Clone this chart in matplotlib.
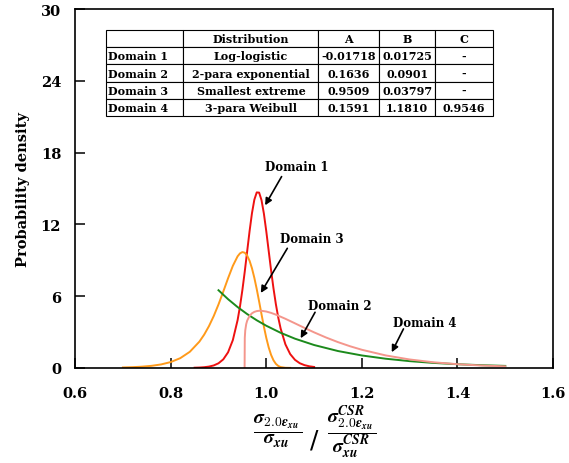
import matplotlib
matplotlib.use('Agg')
import matplotlib.pyplot as plt

plt.rcParams['font.family'] = ['DejaVu Serif']
plt.rcParams['font.weight'] = 'bold'
plt.rcParams['axes.labelweight'] = 'bold'
plt.rcParams['mathtext.fontset'] = 'cm'
plt.rcParams['axes.unicode_minus'] = False

# Domain 1 - log-logistic
x1 = [0.85, 0.86, 0.87, 0.88, 0.89, 0.90, 0.91, 0.92, 0.93, 0.94, 0.945, 0.95, 0.955,
      0.96, 0.965, 0.97, 0.975, 0.98, 0.985, 0.99, 0.995, 1.00, 1.005, 1.01, 1.015,
      1.02, 1.025, 1.03, 1.04, 1.05, 1.06, 1.07, 1.08, 1.09, 1.10]
y1 = [0.015, 0.029, 0.056, 0.108, 0.204, 0.384, 0.712, 1.301, 2.321, 3.999, 5.150, 6.518, 8.075,
      9.754, 11.427, 12.930, 14.067, 14.676, 14.661, 14.031, 12.895, 11.419, 9.790, 8.167, 6.662,
      5.337, 4.215, 3.293, 1.967, 1.154, 0.672, 0.390, 0.228, 0.132, 0.077]

# Domain 3 - smallest extreme
x3 = [0.70, 0.72, 0.74, 0.76, 0.78, 0.80, 0.82, 0.84, 0.86, 0.87, 0.88, 0.89, 0.90, 0.91,
      0.92, 0.93, 0.94, 0.945, 0.95, 0.955, 0.96, 0.965, 0.97, 0.975, 0.98, 0.985, 0.99,
      0.995, 1.00, 1.005, 1.01, 1.015, 1.02, 1.025, 1.03, 1.04, 1.05]
y3 = [0.036, 0.060, 0.102, 0.172, 0.289, 0.486, 0.812, 1.345, 2.194, 2.778, 3.488, 4.332, 5.306, 6.380,
      7.494, 8.532, 9.333, 9.578, 9.686, 9.630, 9.392, 8.959, 8.334, 7.532, 6.590, 5.552, 4.484,
      3.449, 2.509, 1.714, 1.089, 0.637, 0.340, 0.163, 0.069, 0.008, 0.0004]

# Domain 2 - 2-para exponential
x2 = [0.90, 0.92, 0.94, 0.96, 0.98, 1.00, 1.03, 1.06, 1.10, 1.15, 1.20, 1.25, 1.30,
      1.35, 1.40, 1.45, 1.50]
y2 = [6.494, 5.747, 5.085, 4.500, 3.982, 3.524, 2.934, 2.442, 1.913, 1.409, 1.038, 0.765, 0.563,
      0.415, 0.306, 0.225, 0.166]

# Domain 4 - 3-para Weibull
x4 = [0.9546, 0.9550, 0.956, 0.958, 0.960, 0.965, 0.970, 0.975, 0.980, 0.985, 0.990, 1.00,
      1.01, 1.02, 1.04, 1.06, 1.08, 1.10, 1.125, 1.15, 1.175, 1.20, 1.25, 1.30, 1.35,
      1.40, 1.45, 1.50]
y4 = [0.0, 2.510, 3.140, 3.661, 3.951, 4.353, 4.565, 4.685, 4.749, 4.775, 4.773, 4.713,
      4.600, 4.454, 4.106, 3.726, 3.342, 2.972, 2.541, 2.154, 1.812, 1.514, 1.041, 0.703, 0.467,
      0.307, 0.199, 0.128]

col_labels = ['', 'Distribution', 'A', 'B', 'C']
table_rows = [['Domain 1', 'Log-logistic', '-0.01718', '0.01725', '-'],
              ['Domain 2', '2-para exponential', '0.1636', '0.0901', '-'],
              ['Domain 3', 'Smallest extreme', '0.9509', '0.03797', '-'],
              ['Domain 4', '3-para Weibull', '0.1591', '1.1810', '0.9546']]

fig = plt.figure(figsize=(5.69, 4.64), dpi=100)
ax = fig.add_subplot(1, 1, 1)
fig.subplots_adjust(left=0.132, right=0.972, top=0.978, bottom=0.205)

ax.plot(x1, y1, color='#ee1111', lw=1.4)
ax.plot(x3, y3, color='#ff9a1a', lw=1.4)
ax.plot(x2, y2, color='#1c8a1c', lw=1.4)
ax.plot(x4, y4, color='#f4968c', lw=1.4)

ax.set_xlim(0.6, 1.6)
ax.set_ylim(0, 30)
ax.set_xticks([0.6, 0.8, 1.0, 1.2, 1.4, 1.6])
ax.set_xticklabels(['0.6', '0.8', '1.0', '1.2', '1.4', '1.6'])
ax.set_yticks([0, 6, 12, 18, 24, 30])
ax.tick_params(direction='in', length=7, width=1.1, labelsize=10.5)
ax.tick_params(axis='x', pad=13)
ax.tick_params(axis='y', pad=10)
for sp in ax.spines.values():
    sp.set_linewidth(1.2)

ax.set_ylabel('Probability density', fontsize=10.5, labelpad=8)

# x label: two fractions split by a slash (same baseline so the bars line up)
fig.text(0.487, 0.056, r'$\dfrac{\boldsymbol{\sigma}_{\mathbf{2.0}\boldsymbol{\epsilon}_{\boldsymbol{xu}}}}'
         r'{\boldsymbol{\sigma}_{\boldsymbol{xu}}}$', fontsize=14, ha='center', va='baseline')
fig.text(0.552, 0.050, '/', fontsize=18, fontweight='normal', ha='center', va='center',
         family='DejaVu Sans')
fig.text(0.617, 0.056, r'$\dfrac{\boldsymbol{\sigma}^{\boldsymbol{CSR}}_{\mathbf{2.0}\boldsymbol{\epsilon}_{\boldsymbol{xu}}}}'
         r'{\boldsymbol{\sigma}^{\boldsymbol{CSR}}_{\boldsymbol{xu}}}$', fontsize=14, ha='center', va='baseline')

# labels with arrows
notes = [('Domain 1', (1.064, 16.85), (1.032, 16.0), (0.9975, 13.6)),
         ('Domain 3', (1.095, 10.78), (1.044, 10.0), (0.9885, 6.27)),
         ('Domain 2', (1.153, 5.20), (1.102, 4.65), (1.072, 2.48)),
         ('Domain 4', (1.332, 3.82), (1.287, 3.26), (1.2625, 1.31))]
for name, tpos, start, tip in notes:
    ax.text(tpos[0], tpos[1], name, ha='center', va='center', fontsize=8.5)
    ax.annotate('', xy=tip, xytext=start,
                arrowprops=dict(arrowstyle='-|>', color='black', lw=1.2,
                                mutation_scale=10, shrinkA=0, shrinkB=0))

tb = ax.table(cellText=table_rows, colLabels=col_labels, cellLoc='center',
              colWidths=[77.3, 135, 61, 55.7, 58.3],
              bbox=[0.065, 0.702, 0.81, 0.24])
tb.auto_set_font_size(False)
for (r, c), cell in tb.get_celld().items():
    cell.set_linewidth(0.8)
    cell.get_text().set_fontsize(8)
    cell.get_text().set_fontweight('bold')
    if c == 0:
        cell.get_text().set_horizontalalignment('left')
        cell.PAD = 0.02

plt.savefig('out.png')
plt.close()
